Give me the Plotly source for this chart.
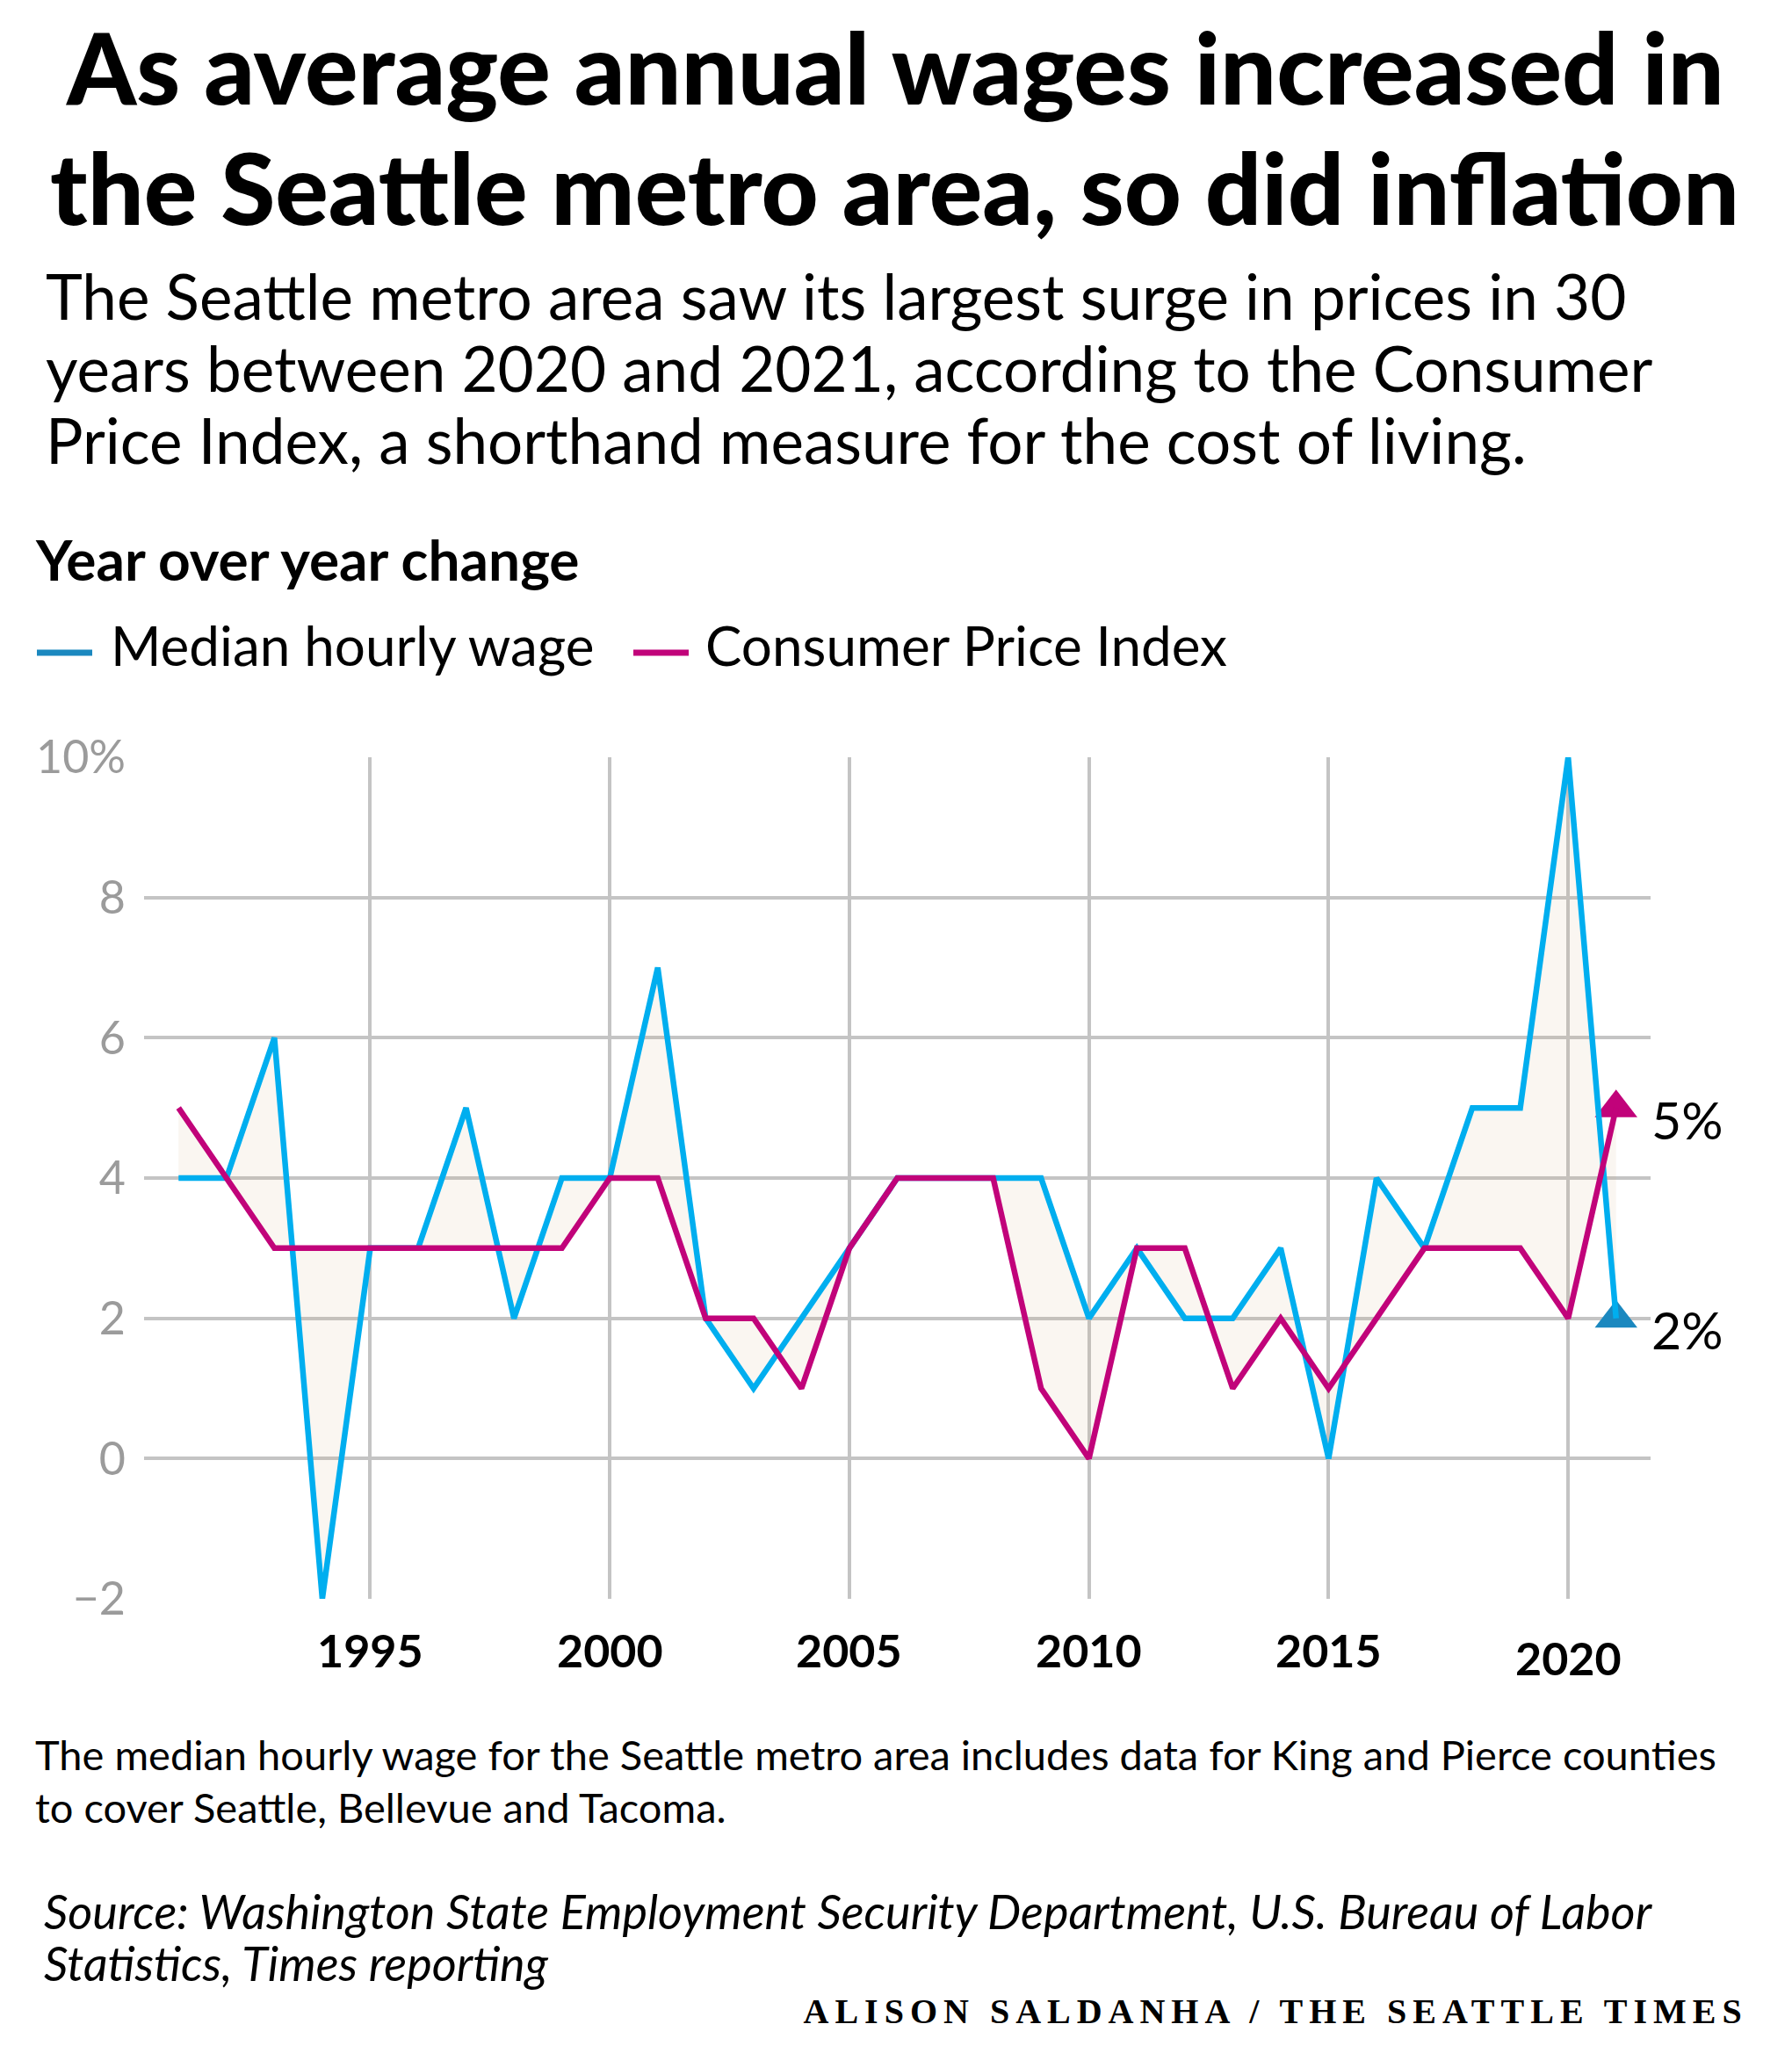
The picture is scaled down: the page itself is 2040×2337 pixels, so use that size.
import plotly.graph_objects as go

# ---------------- data ----------------
years = list(range(1991, 2022))
wage = [4, 4, 6, -2, 3, 3, 5, 2, 4, 4, 7, 2, 1, 2, 3, 4, 4, 4, 4, 2, 3, 2, 2, 3, 0, 4, 3, 5, 5, 10, 2]
cpi = [5, 4, 3, 3, 3, 3, 3, 3, 3, 4, 4, 2, 2, 1, 3, 4, 4, 4, 1, 0, 3, 3, 1, 2, 1, 2, 3, 3, 3, 2, 5]
series_names = ["Median hourly wage", "Consumer Price Index"]
x_tick_vals = [1995, 2000, 2005, 2010, 2015, 2020]
x_tick_text = ["1995", "2000", "2005", "2010", "2015", "2020"]
y_tick_vals = [-2, 0, 2, 4, 6, 8, 10]
y_tick_text = ["\u22122", "0", "2", "4", "6", "8", "10%"]

title_lines = ["As average annual wages increased in", "the Seattle metro area, so did inflation"]
subtitle_lines = [
    "The Seattle metro area saw its largest surge in prices in 30",
    "years between 2020 and 2021, according to the Consumer",
    "Price Index, a shorthand measure for the cost of living.",
]
chart_label = "Year over year change"
note_lines = [
    "The median hourly wage for the Seattle metro area includes data for King and Pierce counties",
    "to cover Seattle, Bellevue and Tacoma.",
]
source_lines = [
    "Source: Washington State Employment Security Department, U.S. Bureau of Labor",
    "Statistics, Times reporting",
]
credit = "ALISON SALDANHA / THE SEATTLE TIMES"

# ---------------- style ----------------
W, H = 2040, 2337
PL, PR, PT, PB = 164, 1879, 862, 1820
BLUE = "#00aeef"
BLUE_DARK = "#1b88bf"
MAGENTA = "#c1037a"
GRID = "#c4c4c4"
FONT = "Lato, 'Open Sans', sans-serif"


def pxx(x):
    return (x - PL) / (PR - PL)


def pxy(y):
    return (PB - y) / (PB - PT)


fig = go.Figure()

# fill between the two series
fig.add_trace(go.Scatter(x=years, y=cpi, mode="lines", line=dict(width=0, color=MAGENTA),
                         showlegend=False, hoverinfo="skip"))
fig.add_trace(go.Scatter(x=years, y=wage, mode="lines", line=dict(width=0, color=BLUE),
                         fill="tonexty", fillcolor="rgba(205,165,115,0.10)",
                         showlegend=False, hoverinfo="skip"))
# end markers
fig.add_trace(go.Scatter(x=[years[-1]], y=[wage[-1]], mode="markers",
                         marker=dict(symbol="triangle-up", size=42, color=BLUE_DARK, line=dict(width=0)),
                         showlegend=False, hoverinfo="skip"))
fig.add_trace(go.Scatter(x=[years[-1]], y=[cpi[-1]], mode="markers",
                         marker=dict(symbol="triangle-up", size=42, color=MAGENTA, line=dict(width=0)),
                         showlegend=False, hoverinfo="skip"))
# lines
fig.add_trace(go.Scatter(x=years, y=wage, mode="lines", name=series_names[0],
                         line=dict(width=6.5, color=BLUE), showlegend=False))
fig.add_trace(go.Scatter(x=years, y=cpi, mode="lines", name=series_names[1],
                         line=dict(width=6.5, color=MAGENTA), showlegend=False))

annotations = []


def add_text(text, x, y, size, color="#000", weight=400, style="normal", xanchor="left",
             family=FONT, borderpad=1):
    annotations.append(dict(text=text, x=pxx(x), y=pxy(y), xref="paper", yref="paper",
                            xanchor=xanchor, yanchor="middle", showarrow=False, borderpad=borderpad,
                            font=dict(family=family, size=size, color=color, weight=weight, style=style)))


# title & subtitle
for i, t in enumerate(title_lines):
    add_text(t, 1018, 75 + i * 137, 113, weight=900, xanchor="center", borderpad=0)
for i, t in enumerate(subtitle_lines):
    add_text(t, 50, 337 + i * 82, 71)
add_text(chart_label, 38, 636, 64, weight=700)

# legend (manual)
legend_items = [(series_names[0], BLUE_DARK, 42, 128), (series_names[1], MAGENTA, 721, 805)]
shapes = []
for name, col, x0, tx in legend_items:
    shapes.append(dict(type="line", xref="paper", yref="paper", x0=pxx(x0), x1=pxx(x0 + 63),
                       y0=pxy(743), y1=pxy(743), line=dict(color=col, width=7)))
    add_text(name, tx - 4, 734, 62)

# x-axis year labels (2020 sits slightly lower in the original)
for v, t in zip(x_tick_vals, x_tick_text):
    annotations.append(dict(text=t, x=v, y=0, xref="x", yref="paper", xanchor="center",
                            yanchor="top", yshift=-25 - (9 if v == 2020 else 0), showarrow=False,
                            font=dict(family=FONT, size=52, color="#000", weight=700)))

# end labels
for vals in (wage, cpi):
    annotations.append(dict(text=f"{vals[-1]}%", x=years[-1], y=vals[-1], xref="x", yref="y",
                            xanchor="left", yanchor="middle", xshift=38, yshift=-13, showarrow=False,
                            font=dict(family=FONT, size=59, color="#000")))

# notes
for i, t in enumerate(note_lines):
    add_text(t, 38, 1997 + i * 60, 47)
for i, t in enumerate(source_lines):
    add_text(t, 48, 2175 + i * 59, 54, style="italic")
add_text(credit, 1452, 2289, 40, weight=700, xanchor="center",
         family="'Liberation Serif', 'DejaVu Serif', serif")

fig.update_layout(
    width=W, height=H,
    margin=dict(l=PL, r=W - PR, t=PT, b=H - PB, pad=0),
    paper_bgcolor="white", plot_bgcolor="white",
    showlegend=False,
    annotations=annotations,
    shapes=shapes,
    font=dict(family=FONT),
)
fig.update_xaxes(range=[1990.28, 2021.72], tickvals=x_tick_vals, showticklabels=False,
                 showgrid=True, gridcolor=GRID, gridwidth=3.5, zeroline=False, showline=False,
                 ticks="")
fig.update_yaxes(range=[-2, 10], tickvals=y_tick_vals, ticktext=y_tick_text,
                 showgrid=True, gridcolor=GRID, gridwidth=3.5, zeroline=False, showline=False,
                 ticks="", ticklabelstandoff=20,
                 tickfont=dict(family=FONT, size=52, color="#9b9b9b"))

post = """
document.body.style.margin='0';
document.querySelectorAll('text.annotation-text').forEach(function(el){
  if (el.textContent === %s) { el.style.letterSpacing = '7px'; }
});
""" % repr(credit)

fig.write_html("out.html", post_script=post, config={"displayModeBar": False})
